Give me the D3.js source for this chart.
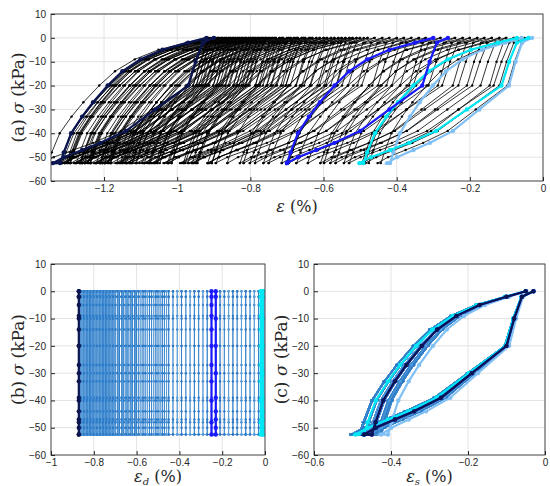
<!DOCTYPE html>
<html><head><meta charset="utf-8">
<script src="https://cdn.jsdelivr.net/npm/d3@7"></script>
<style>body{margin:0;background:#fff}svg{display:block}</style>
</head><body>
<svg id="c" width="550" height="486"></svg>
<script>
// εd of each cycle (%)
const cycleOffsets = [0,-0.01,-0.02,-0.03,-0.05,-0.07,-0.09,-0.11,-0.13,-0.15,-0.17,-0.19,-0.21,-0.23,-0.25,-0.27,-0.29,-0.31,-0.33,-0.35,-0.37,-0.39,-0.41,-0.43,-0.45,-0.46,-0.47,-0.48,-0.49,-0.5,-0.51,-0.52,-0.53,-0.54,-0.55,-0.56,-0.57,-0.58,-0.59,-0.6,-0.605,-0.61,-0.62,-0.625,-0.63,-0.64,-0.645,-0.65,-0.66,-0.665,-0.67,-0.68,-0.685,-0.69,-0.7,-0.705,-0.71,-0.715,-0.72,-0.725,-0.73,-0.735,-0.74,-0.745,-0.75,-0.755,-0.76,-0.765,-0.77,-0.775,-0.78,-0.785,-0.79,-0.795,-0.8,-0.805,-0.81,-0.815,-0.82,-0.825,-0.83,-0.835,-0.84,-0.845,-0.85,-0.855,-0.86,-0.865,-0.87];
// loop shape εs (%) and σ (kPa): loading then unloading
const loadEps = [-0.03,-0.06,-0.08,-0.10,-0.19,-0.27,-0.34,-0.39,-0.44,-0.47];
const loadSig = [0,-2,-10,-20,-30,-39,-44,-47,-50,-52.5];
const unloadEps = [-0.45,-0.44,-0.42,-0.39,-0.36,-0.32,-0.28,-0.23,-0.17,-0.10,-0.05];
const unloadSig = [-52.5,-48,-40,-33,-27,-20,-14,-9,-5,-2,0];
// per-cycle loop width factors (spread of loops in panel c)
const loopWidth = [0.96,1.04,0.99,1.07,0.94,1.01,1.05,0.97,1.02,0.95,1.08];
// highlighted cycles: index into cycleOffsets, colour, width
const highlightIdx = [0,1,13,88];
const highlightCol = ["#80c0f5","#00e8f5","#1a1aff","#0b1550"];
const highlightW = [0.9,1.05,1.0,1.0];
const yTicks = [10,0,-10,-20,-30,-40,-50,-60];

const svg = d3.select("#c");
const font = "Helvetica, Arial, 'Liberation Sans', sans-serif";
const serif = "'DejaVu Serif','Liberation Serif',serif";

function cyc(k,w){
  const d = cycleOffsets[k];
  const dn = k<cycleOffsets.length-1 ? cycleOffsets[k+1] : d;
  const f = e=>-0.03+(e+0.03)*w;
  const pts=[];
  loadEps.forEach((e,i)=>pts.push({es:f(e), ed:d, s:loadSig[i]}));
  unloadEps.forEach((e,i)=>pts.push({es:f(e), ed:dn, s:unloadSig[i]}));
  return pts;
}
const C = cycleOffsets.map((d,k)=>cyc(k,loopWidth[k%loopWidth.length]));
const H = highlightIdx.map((k,j)=>cyc(k,highlightW[j]));

function panel(o){
  const g = svg.append("g");
  const x = d3.scaleLinear().domain(o.xd).range([o.x0,o.x1]);
  const y = d3.scaleLinear().domain([-60,10]).range([o.y1,o.y0]);
  o.xt.forEach(t=>g.append("line").attr("x1",x(t)).attr("x2",x(t)).attr("y1",o.y0).attr("y2",o.y1).attr("stroke","#e3e3e3"));
  yTicks.forEach(t=>g.append("line").attr("x1",o.x0).attr("x2",o.x1).attr("y1",y(t)).attr("y2",y(t)).attr("stroke","#e3e3e3"));
  const clip = "cl"+o.id;
  svg.append("clipPath").attr("id",clip).append("rect").attr("x",o.x0).attr("y",o.y0).attr("width",o.x1-o.x0).attr("height",o.y1-o.y0);
  const pg = g.append("g").attr("clip-path",`url(#${clip})`);
  const line = d3.line().x(p=>x(o.fx(p))).y(p=>y(p.s));
  C.forEach((pts,k)=>{
    const col = o.col(k);
    pg.append("path").attr("d",line(pts)).attr("fill","none").attr("stroke",col).attr("stroke-width",0.8);
    pg.selectAll(null).data(pts).enter().append("circle").attr("cx",p=>x(o.fx(p))).attr("cy",p=>y(p.s)).attr("r",1.2).attr("fill",col);
  });
  H.forEach((pts,j)=>{
    const col=highlightCol[j];
    pg.append("path").attr("d",line(pts)).attr("fill","none").attr("stroke",col).attr("stroke-width",2.2);
    pg.selectAll(null).data(pts).enter().append("circle").attr("cx",p=>x(o.fx(p))).attr("cy",p=>y(p.s)).attr("r",2.2).attr("fill",col);
  });
  g.append("rect").attr("x",o.x0).attr("y",o.y0).attr("width",o.x1-o.x0).attr("height",o.y1-o.y0).attr("fill","none").attr("stroke","#262626").attr("stroke-width",0.8);
  const ax = g.append("g").attr("transform",`translate(0,${o.y1})`).call(d3.axisBottom(x).tickValues(o.xt).tickFormat(d3.format("~g")).tickSizeInner(-4).tickSizeOuter(0).tickPadding(4));
  const ay = g.append("g").attr("transform",`translate(${o.x0},0)`).call(d3.axisLeft(y).tickValues(yTicks).tickSizeInner(-4).tickSizeOuter(0).tickPadding(5));
  [ax,ay].forEach(a=>{a.select(".domain").remove();a.selectAll("text").attr("font-family",font).attr("font-size",10).attr("fill","#262626");a.selectAll("line").attr("stroke","#262626");});
  const xl = g.append("text").attr("x",(o.x0+o.x1)/2).attr("y",o.y1+o.lab).attr("text-anchor","middle").attr("font-family",serif).attr("font-size",16).attr("fill","#262626");
  xl.append("tspan").attr("font-style","italic").text("ε");
  if(o.sub) xl.append("tspan").attr("font-style","italic").attr("font-size",10).attr("dy",3).text(o.sub);
  xl.append("tspan").attr("dy",o.sub?-3:0).text(" (%)");
  g.append("text").attr("transform",`translate(${o.x0-27},${(o.y0+o.y1)/2}) rotate(-90)`).attr("text-anchor","middle").attr("font-family",serif).attr("font-size",17).attr("fill","#262626")
    .html(`${o.tag} <tspan font-style="italic">σ</tspan> (kPa)`);
}
panel({id:"a",x0:51,x1:543,y0:14,y1:181,lab:31,xd:[-1.345,0],xt:[-1.2,-1,-0.8,-0.6,-0.4,-0.2,0],fx:p=>p.ed+p.es,col:()=>"#000",tag:"(a)"});
panel({id:"b",x0:51,x1:265,y0:264,y1:455,lab:27,xd:[-1,0],xt:[-1,-0.8,-0.6,-0.4,-0.2,0],fx:p=>p.ed,col:k=>k%3==1?"#5aa0dc":"#2a78c6",tag:"(b)",sub:"d"});
panel({id:"c",x0:314,x1:545,y0:264,y1:455,lab:27,xd:[-0.6,0],xt:[-0.6,-0.4,-0.2,0],fx:p=>p.es,col:k=>k%3==1?"#5aa0dc":"#2a78c6",tag:"(c)",sub:"s"});
</script>
</body></html>
